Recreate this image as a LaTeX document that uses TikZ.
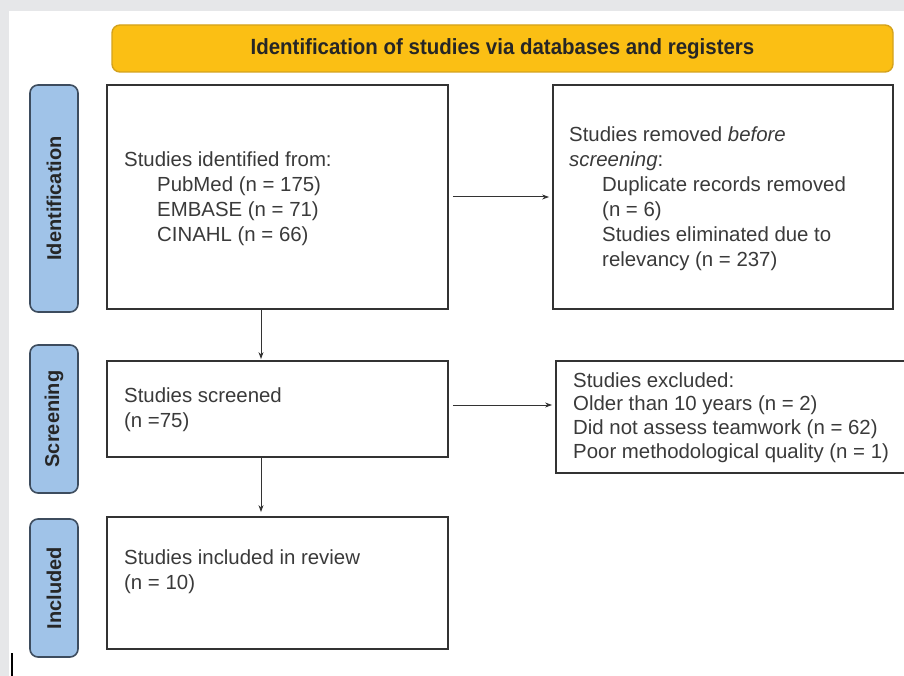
\documentclass[tikz,border=0pt]{standalone}
\usepackage{fontspec}
\setmainfont{Liberation Sans}
\usetikzlibrary{arrows.meta}
\definecolor{bg}{HTML}{E6E7E9}
\definecolor{yel}{HTML}{FBBF14}
\definecolor{yelb}{HTML}{D4A21C}
\definecolor{blu}{HTML}{A0C3E8}
\definecolor{blub}{HTML}{3D4C5E}
\definecolor{txt}{HTML}{3A3A3A}
\definecolor{bx}{HTML}{333333}
\begin{document}
\begin{tikzpicture}[x=1pt,y=-1pt,
  box/.style={draw=bx,line width=1.8pt,fill=white,inner sep=0pt},
  phase/.style={draw=blub,fill=blu,line width=1.6pt,rounded corners=8pt,inner sep=0pt},
  body/.style={text=txt,font=\fontsize{20.4}{25}\selectfont,align=left,anchor=west,inner sep=0pt},
  arr/.style={draw=bx,line width=1pt,-{Stealth[length=7pt,width=5pt]}},
  plabel/.style={text=black!85,font=\bfseries\fontsize{20}{24}\selectfont,rotate=90,inner sep=0pt}
]
\useasboundingbox (0,0) rectangle (904,676);
\fill[bg] (0,0) rectangle (904,676);
\fill[white] (9,11) rectangle (904,676);

% title
\node[draw=yelb,fill=yel,line width=1.4pt,rounded corners=8pt,minimum width=781,minimum height=47,inner sep=0pt]
  (title) at (502.5,48.5) {};
\node[text=black!85,font=\bfseries\fontsize{22}{26}\selectfont,inner sep=0pt] (titleT) at (title.center)
  {\scalebox{0.93}[1]{Identification of studies via databases and registers}};

% phases
\node[phase,minimum width=48,minimum height=227] (pId) at (54,198.5) {};
\node[plabel] (pIdT) at (pId.center) {Identification};
\node[phase,minimum width=48,minimum height=148] (pSc) at (54,419) {};
\node[plabel] (pScT) at (pSc.center) {Screening};
\node[phase,minimum width=48,minimum height=138] (pIn) at (54,588) {};
\node[plabel] (pInT) at (pIn.center) {Included};

% boxes
\node[box,minimum width=341,minimum height=224] (ident) at (277.5,197) {};
\node[body] (identT) at (124,199) {Studies identified from:\\
  \hspace*{33pt}PubMed (n = 175)\\
  \hspace*{33pt}EMBASE (n = 71)\\
  \hspace*{33pt}CINAHL (n = 66)};

\node[box,minimum width=340,minimum height=224] (removed) at (723,197) {};
\node[body] (removedT) at (569,198.5) {Studies removed \textit{before}\\
  \textit{screening}:\\
  \hspace*{33pt}Duplicate records removed\\
  \hspace*{33pt}(n = 6)\\
  \hspace*{33pt}Studies eliminated due to\\
  \hspace*{33pt}relevancy (n = 237)};

\node[box,minimum width=341,minimum height=96] (screened) at (277.5,409) {};
\node[body] (screenedT) at (124,409.5) {Studies screened\\(n =75)};

\node[box,minimum width=341,minimum height=132] (included) at (277.5,583) {};
\node[body] (includedT) at (124,572) {Studies included in review\\(n = 10)};

\node[box,minimum width=350,minimum height=112] (excluded) at (731,417) {};
\node[body,font=\fontsize{20.4}{23.7}\selectfont] (excludedT) at (573,417.5) {Studies excluded:\\
  Older than 10 years (n = 2)\\
  Did not assess teamwork (n = 62)\\
  Poor methodological quality (n = 1)};

% connectors
\draw[arr,shorten <=4pt,shorten >=3pt] (ident.east) -- (removed.west);
\draw[arr,shorten >=1pt] ([xshift=-16.5pt]ident.south) -- ([xshift=-16.5pt]screened.north);
\draw[arr,shorten <=4pt,shorten >=3pt] ([yshift=4pt]screened.east) -- ([yshift=4pt]screened.east -| excluded.west);
\draw[arr,shorten >=4pt] ([xshift=-16.5pt]screened.south) -- ([xshift=-16.5pt]included.north);

% stray mark
\draw[black,line width=2pt] (12,653) -- (12,677);
\end{tikzpicture}
\end{document}
